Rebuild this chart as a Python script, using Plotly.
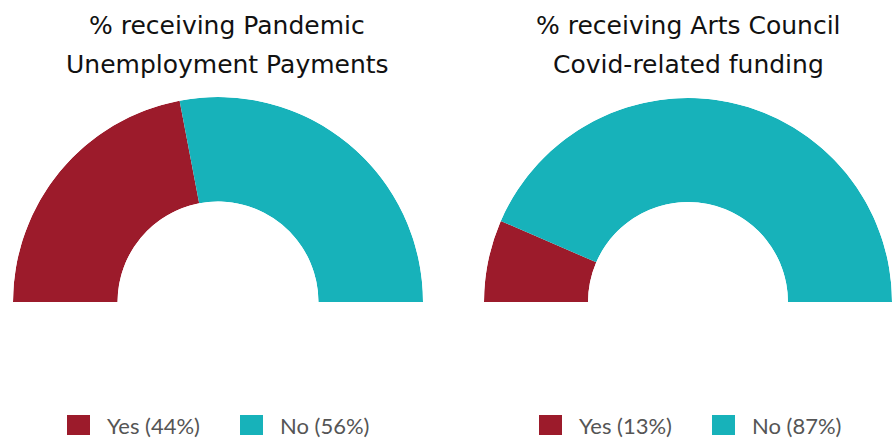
import plotly.graph_objects as go

# Survey results shown as two half-donut gauges
categories = ["Yes", "No"]
pup_values = [44, 56]
arts_values = [13, 87]
title_pup = ["% receiving Pandemic", "Unemployment Payments"]
title_arts = ["% receiving Arts Council", "Covid-related funding"]

colors = ["#9c1b2b", "#17b2ba"]
W, H = 892, 439


def px_x(x):
    return x / W


def px_y(y):
    return 1 - y / H


def half_donut(values, polar_id):
    # each share occupies its fraction of the 180-degree arc, starting at the left
    thetas, widths = [], []
    start = 180.0
    total = sum(values)
    for v in values:
        span = 180.0 * v / total
        thetas.append(start - span / 2)
        widths.append(span)
        start -= span
    return go.Barpolar(
        r=[1] * len(values),
        theta=thetas,
        width=widths,
        marker=dict(color=colors, line=dict(width=0)),
        customdata=[f"{c} ({v}%)" for c, v in zip(categories, values)],
        hovertemplate="%{customdata}<extra></extra>",
        subplot=polar_id,
        showlegend=False,
    )


fig = go.Figure()
fig.add_trace(half_donut(pup_values, "polar"))
fig.add_trace(half_donut(arts_values, "polar2"))

polar_common = dict(
    sector=[0, 180],
    hole=0.49,
    bgcolor="white",
    bargap=0,
    radialaxis=dict(visible=False, range=[0, 1]),
    angularaxis=dict(visible=False),
)

fig.update_layout(
    width=W,
    height=H,
    margin=dict(l=0, r=0, t=0, b=0),
    paper_bgcolor="white",
    plot_bgcolor="white",
    polar=dict(domain=dict(x=[px_x(13), px_x(423)], y=[px_y(302), px_y(97)]), **polar_common),
    polar2=dict(domain=dict(x=[px_x(484), 1.0], y=[px_y(302), px_y(98)]), **polar_common),
)

annotations = []
shapes = []

# two-line titles
title_font = dict(family="DejaVu Sans, Verdana, sans-serif", size=25, color="#111111")
for lines, cx in ((title_pup, 227), (title_arts, 688)):
    for line, cy in zip(lines, (25, 65)):
        annotations.append(dict(
            x=px_x(cx), y=px_y(cy), xref="paper", yref="paper",
            text=line, showarrow=False, xanchor="center", yanchor="middle",
            font=title_font,
        ))

# legends beneath each gauge
legend_font = dict(family="Lato, sans-serif", size=22, color="#555555")
legend_rows = [
    (pup_values, [67, 240]),
    (arts_values, [539, 712]),
]
cy = 425
for values, xs in legend_rows:
    for cat, v, col, x0 in zip(categories, values, colors, xs):
        shapes.append(dict(
            type="rect", xref="paper", yref="paper",
            x0=px_x(x0), x1=px_x(x0 + 23), y0=px_y(cy + 10), y1=px_y(cy - 10),
            fillcolor=col, line=dict(width=0),
        ))
        annotations.append(dict(
            x=px_x(x0 + 38), y=px_y(cy), xref="paper", yref="paper",
            text=f"{cat} ({v}%)", showarrow=False, xanchor="left", yanchor="middle",
            font=legend_font,
        ))

fig.update_layout(annotations=annotations, shapes=shapes)

fig.write_html("out.html")
